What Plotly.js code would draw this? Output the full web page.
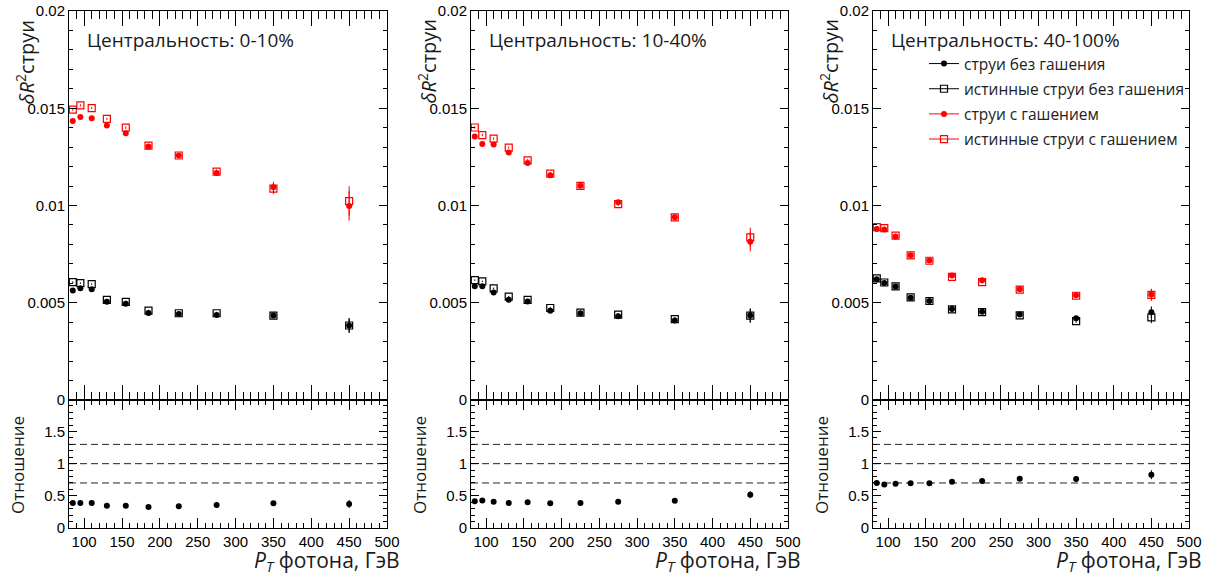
<!DOCTYPE html>
<html><head><meta charset="utf-8">
<script src="https://cdn.plot.ly/plotly-3.0.1.min.js"></script>
<style>body{margin:0;background:#fff}#chart{width:1220px;height:576px}</style>
</head><body><div id="chart"></div>
<script>
// ---------- data ----------
const ptBins = [85, 95, 110, 130, 155, 185, 225, 275, 350, 450];
const centralityLabels = ['Центральность: 0-10%', 'Центральность: 10-40%', 'Центральность: 40-100%'];
const seriesNames = ['струи без гашения', 'истинные струи без гашения', 'струи с гашением', 'истинные струи с гашением'];
const ratioRefLines = [0.7, 1.0, 1.3];

// 0-10%
const bFill_0_10 = [0.00563, 0.00574, 0.00570, 0.00505, 0.00495, 0.00447, 0.00442, 0.00437, 0.00434, 0.00383];
const bOpen_0_10 = [0.00606, 0.00601, 0.00596, 0.00515, 0.00505, 0.00459, 0.00446, 0.00446, 0.00434, 0.00383];
const rFill_0_10 = [0.01435, 0.01455, 0.01449, 0.01411, 0.01372, 0.01303, 0.01257, 0.01167, 0.01094, 0.00998];
const rOpen_0_10 = [0.01493, 0.01515, 0.01501, 0.01445, 0.01400, 0.01308, 0.01257, 0.01174, 0.01087, 0.01023];
const bErr_0_10 = [0.00004, 0.00004, 0.00004, 0.00004, 0.00005, 0.00005, 0.00006, 0.00007, 0.00010, 0.00037];
const rErr_0_10 = [0.00006, 0.00006, 0.00006, 0.00006, 0.00007, 0.00008, 0.00009, 0.00012, 0.00028, 0.00076];
const ratio_0_10 = [0.389, 0.389, 0.389, 0.347, 0.347, 0.327, 0.337, 0.358, 0.384, 0.373];
const ratioErr_0_10 = [0.005, 0.005, 0.005, 0.005, 0.005, 0.006, 0.007, 0.009, 0.015, 0.065];

// 10-40%
const bFill_10_40 = [0.00585, 0.00585, 0.00553, 0.00515, 0.00507, 0.00459, 0.00446, 0.00431, 0.00409, 0.00434];
const bOpen_10_40 = [0.00616, 0.00610, 0.00574, 0.00531, 0.00515, 0.00473, 0.00449, 0.00439, 0.00416, 0.00434];
const rFill_10_40 = [0.01355, 0.01316, 0.01314, 0.01273, 0.01219, 0.01155, 0.01101, 0.01017, 0.00939, 0.00814];
const rOpen_10_40 = [0.01401, 0.01362, 0.01344, 0.01298, 0.01232, 0.01164, 0.01101, 0.01007, 0.00939, 0.00836];
const bErr_10_40 = [0.00004, 0.00004, 0.00004, 0.00004, 0.00005, 0.00005, 0.00006, 0.00007, 0.00009, 0.00036];
const rErr_10_40 = [0.00006, 0.00006, 0.00006, 0.00006, 0.00007, 0.00008, 0.00009, 0.00010, 0.00014, 0.00050];
const ratio_10_40 = [0.414, 0.429, 0.409, 0.389, 0.399, 0.384, 0.389, 0.409, 0.425, 0.518];
const ratioErr_10_40 = [0.005, 0.005, 0.005, 0.005, 0.005, 0.006, 0.007, 0.009, 0.012, 0.055];

// 40-100%
const bFill_40_100 = [0.00621, 0.00601, 0.00583, 0.00526, 0.00509, 0.00468, 0.00454, 0.00439, 0.00420, 0.00451];
const bOpen_40_100 = [0.00625, 0.00604, 0.00584, 0.00528, 0.00509, 0.00466, 0.00452, 0.00435, 0.00406, 0.00425];
const rFill_40_100 = [0.00879, 0.00876, 0.00841, 0.00744, 0.00717, 0.00640, 0.00616, 0.00570, 0.00539, 0.00542];
const rOpen_40_100 = [0.00889, 0.00884, 0.00845, 0.00744, 0.00716, 0.00633, 0.00606, 0.00567, 0.00536, 0.00540];
const bErr_40_100 = [0.00004, 0.00004, 0.00004, 0.00004, 0.00005, 0.00005, 0.00006, 0.00007, 0.00009, 0.00030];
const rErr_40_100 = [0.00005, 0.00005, 0.00005, 0.00005, 0.00006, 0.00006, 0.00007, 0.00008, 0.00010, 0.00030];
const ratio_40_100 = [0.700, 0.678, 0.689, 0.694, 0.694, 0.720, 0.731, 0.767, 0.762, 0.829];
const ratioErr_40_100 = [0.006, 0.006, 0.006, 0.007, 0.007, 0.008, 0.010, 0.012, 0.018, 0.070];

// ---------- layout helpers (pixel geometry) ----------
const W = 1220, H = 576;
const px = v => v / W;
const py = v => 1 - v / H;
const panelL = [69, 471, 873];
const panelR = [387, 788, 1189];
const yTop = 11, yMid = 400, yBot = 528;

const panels = [
  {bF: bFill_0_10, bO: bOpen_0_10, rF: rFill_0_10, rO: rOpen_0_10, bE: bErr_0_10, rE: rErr_0_10, ra: ratio_0_10, raE: ratioErr_0_10},
  {bF: bFill_10_40, bO: bOpen_10_40, rF: rFill_10_40, rO: rOpen_10_40, bE: bErr_10_40, rE: rErr_10_40, ra: ratio_10_40, raE: ratioErr_10_40},
  {bF: bFill_40_100, bO: bOpen_40_100, rF: rFill_40_100, rO: rOpen_40_100, bE: bErr_40_100, rE: rErr_40_100, ra: ratio_40_100, raE: ratioErr_40_100}
];

const RED = '#ff0000', BLK = '#000000';
const traces = [];
function errY(arr, color) {
  return {type: 'data', array: arr, visible: true, thickness: 1, width: 0, color: color};
}
const openMarker = c => ({symbol: 'square-open', size: 7, color: c, line: {width: 1.2, color: c}});
const fillMarker = c => ({symbol: 'circle', size: 6, color: c, line: {width: 0}});

panels.forEach((p, i) => {
  const xa = 'x' + (i === 0 ? '' : i + 1);
  const ya = 'y' + (i === 0 ? '' : i + 1);
  const xr = 'x' + (i + 4), yr = 'y' + (i + 4);
  traces.push({x: ptBins, y: p.bO, xaxis: xa, yaxis: ya, mode: 'markers', marker: openMarker(BLK), error_y: errY(p.bE, BLK), showlegend: false, hoverinfo: 'skip'});
  traces.push({x: ptBins, y: p.bF, xaxis: xa, yaxis: ya, mode: 'markers', marker: fillMarker(BLK), error_y: errY(p.bE, BLK), showlegend: false, hoverinfo: 'skip'});
  traces.push({x: ptBins, y: p.rO, xaxis: xa, yaxis: ya, mode: 'markers', marker: openMarker(RED), error_y: errY(p.rE, RED), showlegend: false, hoverinfo: 'skip'});
  traces.push({x: ptBins, y: p.rF, xaxis: xa, yaxis: ya, mode: 'markers', marker: fillMarker(RED), error_y: errY(p.rE, RED), showlegend: false, hoverinfo: 'skip'});
  traces.push({x: ptBins, y: p.ra, xaxis: xr, yaxis: yr, mode: 'markers', marker: fillMarker(BLK), error_y: errY(p.raE, BLK), showlegend: false, hoverinfo: 'skip'});
});

// legend entries (ROOT-style line + marker)
const legendMarkers = [fillMarker(BLK), openMarker(BLK), fillMarker(RED), openMarker(RED)];
const legendColors = [BLK, BLK, RED, RED];
seriesNames.forEach((n, k) => {
  traces.push({x: [null], y: [null], xaxis: 'x3', yaxis: 'y3', mode: 'lines+markers', name: n,
    legendgroup: 'g' + k, line: {color: legendColors[k], width: 1}, marker: legendMarkers[k], showlegend: true});
});

const tickFont = {family: 'Liberation Sans, Arial, sans-serif', size: 15, color: '#000'};
const layout = {
  width: W, height: H,
  margin: {l: 0, r: 0, t: 0, b: 0},
  paper_bgcolor: '#fff', plot_bgcolor: '#fff',
  showlegend: true,
  legend: {x: px(924), y: py(47), xanchor: 'left', yanchor: 'top', bgcolor: 'rgba(0,0,0,0)',
    font: {family: 'Open Sans', size: 15.5, color: '#222'}, traceorder: 'grouped', tracegroupgap: 2, itemwidth: 30},
  annotations: [], shapes: []
};

for (let i = 0; i < 3; i++) {
  const s = i === 0 ? '' : String(i + 1);
  const sr = String(i + 4);
  const commonX = {range: [80, 500], showgrid: false, zeroline: false, showline: true, linecolor: '#000', linewidth: 1,
    mirror: 'ticks', ticks: 'inside', tickcolor: '#000', tickwidth: 1, tick0: 0, dtick: 50, fixedrange: true,
    tickfont: tickFont};
  layout['xaxis' + s] = Object.assign({}, commonX, {
    domain: [px(panelL[i]), px(panelR[i])], anchor: 'y' + s, showticklabels: false, ticklen: 15,
    minor: {ticks: 'inside', ticklen: 8, dtick: 10, tickcolor: '#000', tickwidth: 1}
  });
  layout['xaxis' + sr] = Object.assign({}, commonX, {
    domain: [px(panelL[i]), px(panelR[i])], anchor: 'y' + sr, showticklabels: true, ticklen: 10,
    minor: {ticks: 'inside', ticklen: 5, dtick: 10, tickcolor: '#000', tickwidth: 1}
  });
  layout['yaxis' + s] = {domain: [py(yMid), py(yTop)], anchor: 'x' + s, range: [0, 0.02], dtick: 0.005, tick0: 0,
    showgrid: false, zeroline: false, showline: true, linecolor: '#000', linewidth: 1, mirror: 'ticks',
    ticks: 'inside', ticklen: 8, tickcolor: '#000', tickwidth: 1, tickfont: tickFont, fixedrange: true,
    minor: {ticks: 'inside', ticklen: 4, dtick: 0.001, tickcolor: '#000', tickwidth: 1}};
  layout['yaxis' + sr] = {domain: [py(yBot), py(yMid)], anchor: 'x' + sr, range: [0, 1.99], dtick: 0.5, tick0: 0,
    showgrid: false, zeroline: false, showline: true, linecolor: '#000', linewidth: 1, mirror: 'ticks',
    ticks: 'inside', ticklen: 8, tickcolor: '#000', tickwidth: 1, tickfont: tickFont, fixedrange: true,
    minor: {ticks: 'inside', ticklen: 4, dtick: 0.1, tickcolor: '#000', tickwidth: 1}};

  ratioRefLines.forEach(v => {
    layout.shapes.push({type: 'line', xref: 'x' + sr + ' domain', yref: 'y' + sr, x0: 0, x1: 1, y0: v, y1: v,
      line: {color: '#222', width: 1, dash: '7px,4px'}, layer: 'below'});
  });

  layout.annotations.push({xref: 'paper', yref: 'paper', x: px(panelL[i] + 16), y: py(40), xanchor: 'left', yanchor: 'middle',
    text: centralityLabels[i], showarrow: false, font: {family: 'Open Sans', size: 19, color: '#1a1a1a'}});
  layout.annotations.push({xref: 'paper', yref: 'paper', x: px(panelL[i] - 44), y: py(17), xanchor: 'center', yanchor: 'top',
    textangle: -90, text: '<i>δR</i><sup>2</sup>струи', showarrow: false, font: {family: 'Open Sans', size: 20, color: '#1a1a1a'}});
  layout.annotations.push({xref: 'paper', yref: 'paper', x: px(panelL[i] - 52), y: py(465), xanchor: 'center', yanchor: 'middle',
    textangle: -90, text: 'Отношение', showarrow: false, font: {family: 'Open Sans', size: 17, color: '#1a1a1a'}});
  layout.annotations.push({xref: 'paper', yref: 'paper', x: px(panelR[i] + 15), y: py(561), xanchor: 'right', yanchor: 'middle',
    text: '<i>P</i><sub><i>T</i></sub> фотона, ГэВ', showarrow: false, font: {family: 'Open Sans', size: 21, color: '#1a1a1a'}});
}

Plotly.newPlot('chart', traces, layout, {displayModeBar: false, staticPlot: true});
</script></body></html>
